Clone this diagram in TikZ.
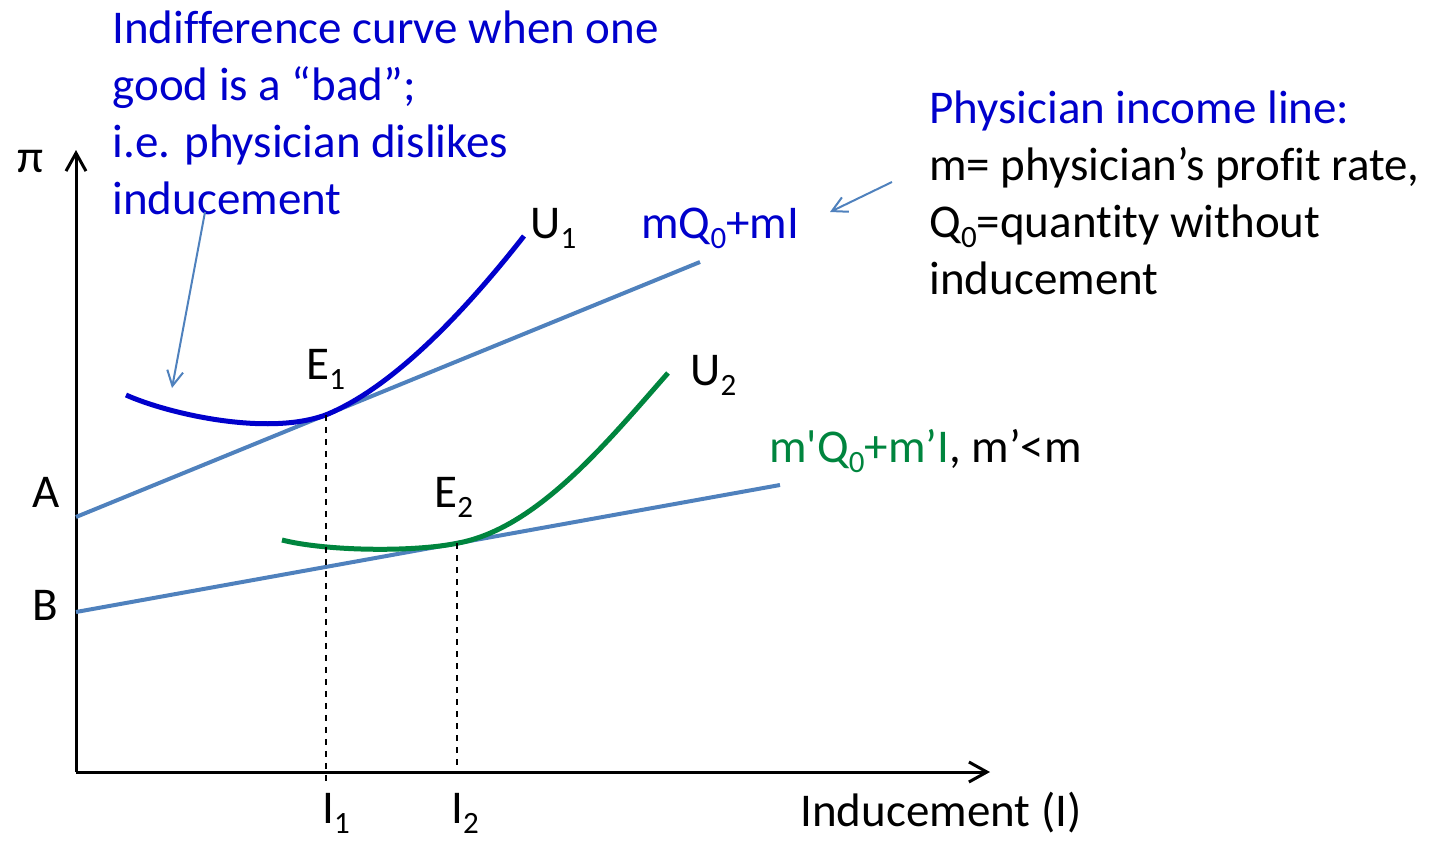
\documentclass[tikz,border=0pt]{standalone}
\usepackage{fontspec}
\setmainfont{Carlito}[Ligatures=NoCommon]
\usepackage{tikz}
\usetikzlibrary{arrows.meta,positioning,calc}
\definecolor{lineblue}{HTML}{4F81BD}
\definecolor{curveblue}{HTML}{0000CC}
\definecolor{curvegreen}{HTML}{00853E}
\newcommand{\lowsub}[1]{\raisebox{-5pt}{\fontsize{15.5}{15.5}\selectfont #1}}

\begin{document}
\begin{tikzpicture}[x=0.5pt,y=-0.5pt,
  lbl/.style={font=\fontsize{23.5}{28.5}\selectfont,inner sep=0pt,anchor=base west},
  note/.style={font=\fontsize{23.5}{28.5}\selectfont,inner sep=0pt,anchor=north west,align=left},
  axis/.style={line width=1.5pt,-{Straight Barb[length=9pt,width=10pt]}},
  income/.style={lineblue,line width=2pt},
  pointer/.style={lineblue,line width=1pt,-{Straight Barb[length=7.5pt,width=8pt]}}]
  \useasboundingbox (0,0) rectangle (1437,841);
  % Axes
  \coordinate (O) at (76,772);
  \coordinate (ytip) at (76,150);
  \coordinate (xtip) at (990,772);
  \draw[axis] (O) -- (ytip);
  \draw[axis] (O) -- (xtip);
  \node[lbl] (pi) at (17,172) {π};
  \node[lbl] (xlab) at (800,826) {Inducement (I)};
  % Income lines
  \coordinate (A0) at (76,517);
  \coordinate (A1) at (700,262);
  \coordinate (B0) at (76,612);
  \coordinate (B1) at (780,485);
  \draw[income] (A0) -- (A1);
  \draw[income] (B0) -- (B1);
  \node[lbl] (A) at (32,507) {A};
  \node[lbl] (B) at (32,620) {B};
  \coordinate (E1) at ($(A0)!0.4006!(A1)$);
  \coordinate (E2) at ($(B0)!0.5412!(B1)$);
  % Indifference curves
  \draw[curveblue,line width=2.5pt] (126,395) .. controls (166,413) and (266,437) .. (E1)
    .. controls ($(E1)+(70,-28.6)$) and (469,306) .. (524,236);
  \draw[curvegreen,line width=2.5pt] (282,540) .. controls (325,551) and (412,552.4) .. (E2)
    .. controls ($(E2)+(80,-14.4)$) and (608,441) .. (668,373);
  \node[lbl] (U1) at (530,238) {U\lowsub{1}};
  \node[lbl] (U2) at (690,385) {U\lowsub{2}};
  \node[lbl] (E1lab) at (306,379) {E\lowsub{1}};
  \node[lbl] (E2lab) at (434,507) {E\lowsub{2}};
  % Drop lines
  \draw[dashed,line width=0.6pt] (E1) -- ($(E1 |- O)+(0,10)$);
  \draw[dashed,line width=0.6pt] (E2) -- (E2 |- O);
  \node[lbl] (I1) at (322,823) {I\lowsub{1}};
  \node[lbl] (I2) at (451,823) {I\lowsub{2}};
  % Line labels
  \node[lbl,curveblue] (mA) at (641,238) {mQ\lowsub{0}+mI};
  \node[lbl] (mB) at (769,462) {\textcolor{curvegreen}{m\textquotesingle Q\lowsub{0}+m’I}, m’<m};
  % Notes
  \node[note,curveblue] (badnote) at (112,10) {Indifference curve when one\\good is a “bad”;\\i.e. physician dislikes\\inducement};
  \node[note] (incnote) at (929,90) {\textcolor{curveblue}{Physician income line:}\\m= physician’s profit rate,\\Q\lowsub{0}=quantity without\\inducement};
  \coordinate (p1) at (205,212);
  \coordinate (p1end) at (172,388);
  \coordinate (p2) at (892,182);
  \coordinate (p2end) at (830,212);
  \draw[pointer] (p1) -- (p1end);
  \draw[pointer] (p2) -- (p2end);
\end{tikzpicture}
\end{document}
